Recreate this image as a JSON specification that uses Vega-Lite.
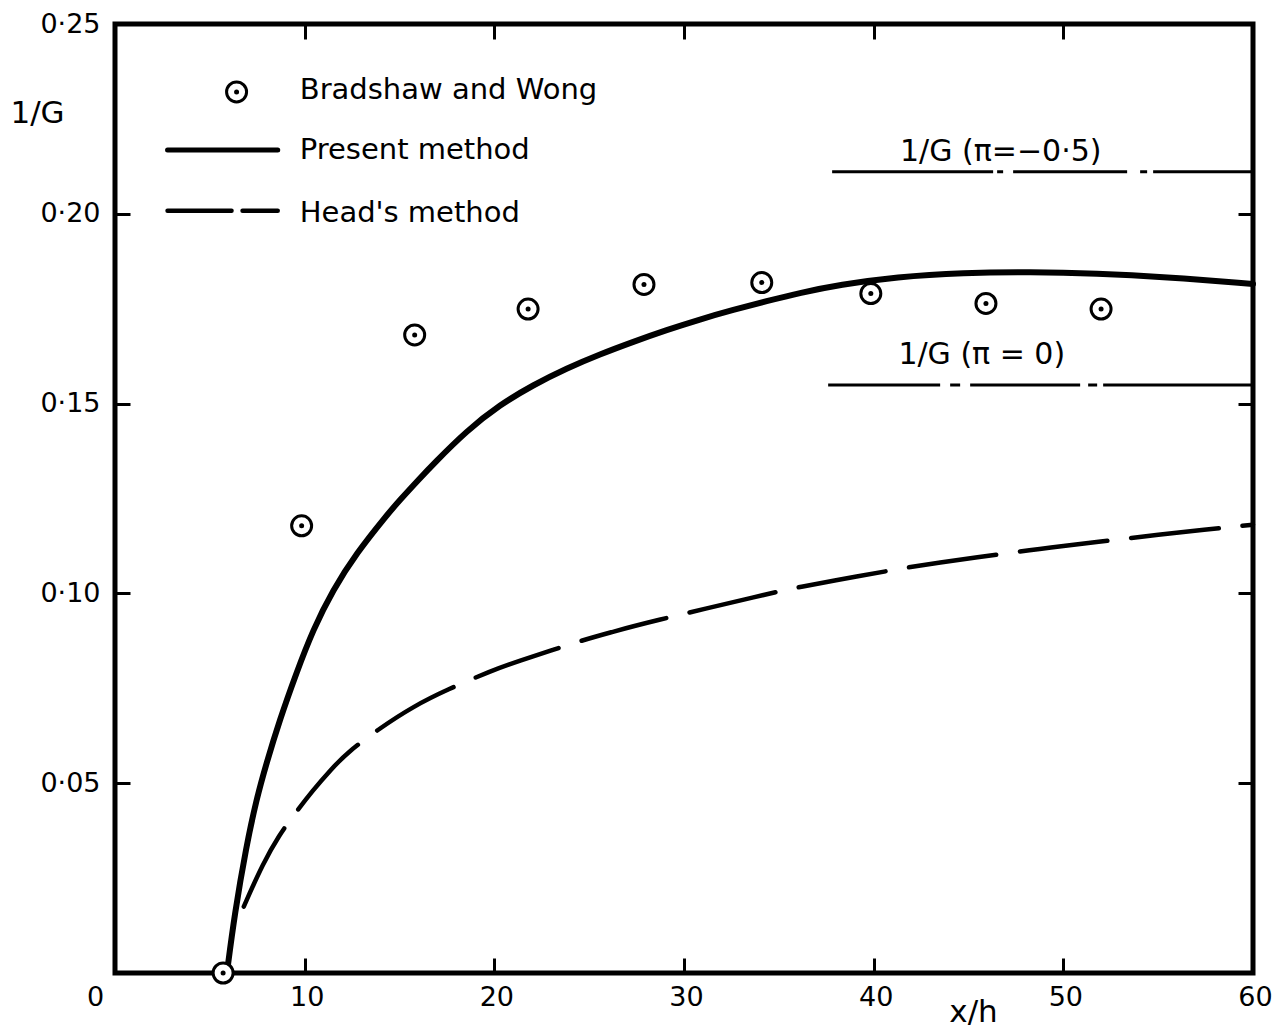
{
  "$schema": "https://vega.github.io/schema/vega-lite/v6.json",
  "width": 1138,
  "height": 949,
  "autosize": "none",
  "padding": {"left": 115, "top": 24, "right": 33, "bottom": 59},
  "background": "white",
  "config": {
    "view": {"stroke": "black", "strokeWidth": 5},
    "font": "DejaVu Sans",
    "axis": {
      "labelColor": "black", "tickColor": "black", "titleColor": "black",
      "titleFontWeight": "normal", "labelFont": "DejaVu Sans", "titleFont": "DejaVu Sans",
      "grid": false, "domain": false, "labelFlush": false, "labelOverlap": false
    }
  },
  "datasets": {
    "bw": [
      {"x": 5.7, "y": 0.0},
      {"x": 9.84, "y": 0.1178},
      {"x": 15.8, "y": 0.1681},
      {"x": 21.78, "y": 0.1749},
      {"x": 27.89, "y": 0.1814},
      {"x": 34.1, "y": 0.1819},
      {"x": 39.85, "y": 0.179},
      {"x": 45.92, "y": 0.1764},
      {"x": 51.99, "y": 0.1749}
    ],
    "present": [
      {"x": 5.9, "y": 0.0},
      {"x": 6.31, "y": 0.0157},
      {"x": 6.92, "y": 0.0333},
      {"x": 7.45, "y": 0.0456},
      {"x": 7.98, "y": 0.0552},
      {"x": 8.68, "y": 0.0666},
      {"x": 9.56, "y": 0.079},
      {"x": 10.44, "y": 0.0904},
      {"x": 11.49, "y": 0.1009},
      {"x": 12.73, "y": 0.1106},
      {"x": 14.31, "y": 0.1205},
      {"x": 15.0, "y": 0.1245},
      {"x": 16.07, "y": 0.1303},
      {"x": 16.77, "y": 0.134},
      {"x": 18.53, "y": 0.1428},
      {"x": 20.29, "y": 0.1497},
      {"x": 22.05, "y": 0.1549},
      {"x": 23.81, "y": 0.1593},
      {"x": 25.57, "y": 0.163},
      {"x": 27.33, "y": 0.1663},
      {"x": 29.09, "y": 0.1694},
      {"x": 30.84, "y": 0.1722},
      {"x": 32.6, "y": 0.1747},
      {"x": 34.36, "y": 0.177},
      {"x": 36.12, "y": 0.1792},
      {"x": 38.2, "y": 0.1813},
      {"x": 41.2, "y": 0.1834},
      {"x": 44.74, "y": 0.1845},
      {"x": 48.26, "y": 0.1847},
      {"x": 51.78, "y": 0.1843},
      {"x": 55.29, "y": 0.1834},
      {"x": 60.0, "y": 0.1815}
    ],
    "head": [
      {"x": 6.79, "y": 0.0175},
      {"x": 7.8, "y": 0.0289},
      {"x": 8.68, "y": 0.0365},
      {"x": 9.38, "y": 0.0413},
      {"x": 10.44, "y": 0.0482},
      {"x": 11.41, "y": 0.0537},
      {"x": 12.2, "y": 0.0579},
      {"x": 13.96, "y": 0.0645},
      {"x": 15.72, "y": 0.0702},
      {"x": 17.48, "y": 0.0746},
      {"x": 19.94, "y": 0.0798},
      {"x": 21.0, "y": 0.0817},
      {"x": 24.51, "y": 0.0875},
      {"x": 26.27, "y": 0.0899},
      {"x": 27.85, "y": 0.0921},
      {"x": 34.54, "y": 0.1},
      {"x": 35.95, "y": 0.1016},
      {"x": 39.29, "y": 0.1046},
      {"x": 41.49, "y": 0.1066},
      {"x": 42.9, "y": 0.1077},
      {"x": 48.0, "y": 0.1113},
      {"x": 49.49, "y": 0.1122},
      {"x": 54.06, "y": 0.1149},
      {"x": 55.8, "y": 0.1159},
      {"x": 60.0, "y": 0.1181}
    ],
    "refA": [{"label": "1/G  (π=−0·5)", "x": 37.81, "x2": 60, "y": 0.2111, "tx": 46.7, "ty": 0.2162}],
    "refB": [{"label": "1/G  (π = 0)", "x": 37.6, "x2": 60, "y": 0.1549, "tx": 45.7, "ty": 0.1628}],
    "lgmark": [{"x": 6.41, "y": 0.2321}],
    "lgsolid": [{"x": 2.77, "x2": 8.58, "y": 0.2168}],
    "lgdash": [{"x": 2.77, "x2": 8.58, "y": 0.2008}],
    "lgtext": [
      {"label": "Bradshaw and Wong", "x": 9.74, "y": 0.2326},
      {"label": "Present method", "x": 9.74, "y": 0.2168},
      {"label": "Head's method", "x": 9.74, "y": 0.2003}
    ]
  },
  "resolve": {"axis": {"x": "independent", "y": "independent"}},
  "layer": [
    {
      "data": {"name": "present"},
      "mark": {"type": "line", "stroke": "black", "strokeWidth": 6, "interpolate": "basis", "strokeCap": "round"},
      "encoding": {
        "x": {"field": "x", "type": "quantitative", "scale": {"domain": [0, 60], "nice": false, "zero": false},
          "axis": {"orient": "bottom", "values": [0, 10, 20, 30, 40, 50, 60], "tickSize": -15, "tickWidth": 3,
            "labelPadding": 26, "labelFontSize": 27,
            "labelOffset": {"condition": {"test": "datum.value == 0", "value": -20}, "value": 2},
            "title": "x/h", "titleFontSize": 31, "titleX": 858, "titleY": 39, "titleAlign": "center", "titleBaseline": "middle"}},
        "y": {"field": "y", "type": "quantitative", "scale": {"domain": [0, 0.25], "nice": false, "zero": false},
          "axis": {"orient": "left", "values": [0, 0.05, 0.1, 0.15, 0.2, 0.25], "tickSize": -15, "tickWidth": 3,
            "labelPadding": 30, "labelFontSize": 27,
            "labelExpr": "datum.value == 0 ? '' : replace(format(datum.value, '.2f'), '.', '·')",
            "title": "1/G", "titleFontSize": 31, "titleAngle": 0, "titleX": -78, "titleY": 89, "titleAlign": "center", "titleBaseline": "middle"}}
      }
    },
    {
      "data": {"name": "head"},
      "mark": {"type": "line", "stroke": "black", "strokeWidth": 4.5, "interpolate": "basis", "strokeDash": [88, 24], "strokeCap": "round"},
      "encoding": {
        "x": {"field": "x", "type": "quantitative", "axis": null},
        "y": {"field": "y", "type": "quantitative", "axis": null}
      }
    },
    {
      "data": {"name": "refA"},
      "mark": {"type": "rule", "stroke": "black", "strokeWidth": 3, "strokeDash": [161, 4, 6, 10, 114, 13, 7, 6, 200]},
      "encoding": {
        "x": {"field": "x", "type": "quantitative", "axis": null},
        "x2": {"field": "x2"},
        "y": {"field": "y", "type": "quantitative", "axis": null}
      }
    },
    {
      "data": {"name": "refB"},
      "mark": {"type": "rule", "stroke": "black", "strokeWidth": 3, "strokeDash": [112, 10, 10, 10, 110, 8, 9, 6, 200]},
      "encoding": {
        "x": {"field": "x", "type": "quantitative", "axis": null},
        "x2": {"field": "x2"},
        "y": {"field": "y", "type": "quantitative", "axis": null}
      }
    },
    {
      "data": {"name": "refA"},
      "mark": {"type": "text", "fontSize": 30, "align": "center", "baseline": "middle", "color": "black"},
      "encoding": {
        "x": {"field": "tx", "type": "quantitative", "axis": null},
        "y": {"field": "ty", "type": "quantitative", "axis": null},
        "text": {"field": "label"}
      }
    },
    {
      "data": {"name": "refB"},
      "mark": {"type": "text", "fontSize": 30, "align": "center", "baseline": "middle", "color": "black"},
      "encoding": {
        "x": {"field": "tx", "type": "quantitative", "axis": null},
        "y": {"field": "ty", "type": "quantitative", "axis": null},
        "text": {"field": "label"}
      }
    },
    {
      "data": {"name": "lgsolid"},
      "mark": {"type": "rule", "stroke": "black", "strokeWidth": 5, "strokeCap": "round"},
      "encoding": {
        "x": {"field": "x", "type": "quantitative", "axis": null},
        "x2": {"field": "x2"},
        "y": {"field": "y", "type": "quantitative", "axis": null}
      }
    },
    {
      "data": {"name": "lgdash"},
      "mark": {"type": "rule", "stroke": "black", "strokeWidth": 4.5, "strokeDash": [64, 11, 40], "strokeCap": "round"},
      "encoding": {
        "x": {"field": "x", "type": "quantitative", "axis": null},
        "x2": {"field": "x2"},
        "y": {"field": "y", "type": "quantitative", "axis": null}
      }
    },
    {
      "data": {"name": "lgtext"},
      "mark": {"type": "text", "fontSize": 29, "align": "left", "baseline": "middle", "color": "black"},
      "encoding": {
        "x": {"field": "x", "type": "quantitative", "axis": null},
        "y": {"field": "y", "type": "quantitative", "axis": null},
        "text": {"field": "label"}
      }
    },
    {
      "data": {"name": "lgmark"},
      "mark": {"type": "point", "shape": "circle", "size": 400, "filled": true, "fill": "white", "stroke": "black", "strokeWidth": 3, "opacity": 1},
      "encoding": {
        "x": {"field": "x", "type": "quantitative", "axis": null},
        "y": {"field": "y", "type": "quantitative", "axis": null}
      }
    },
    {
      "data": {"name": "lgmark"},
      "mark": {"type": "point", "shape": "circle", "size": 25, "filled": true, "color": "black", "opacity": 1},
      "encoding": {
        "x": {"field": "x", "type": "quantitative", "axis": null},
        "y": {"field": "y", "type": "quantitative", "axis": null}
      }
    },
    {
      "data": {"name": "bw"},
      "mark": {"type": "point", "shape": "circle", "size": 400, "filled": true, "fill": "white", "stroke": "black", "strokeWidth": 3, "opacity": 1},
      "encoding": {
        "x": {"field": "x", "type": "quantitative",
          "axis": {"orient": "top", "values": [10, 20, 30, 40, 50], "labels": false, "tickSize": -15, "tickWidth": 3, "title": null}},
        "y": {"field": "y", "type": "quantitative",
          "axis": {"orient": "right", "values": [0.05, 0.1, 0.15, 0.2], "labels": false, "tickSize": -15, "tickWidth": 3, "title": null}}
      }
    },
    {
      "data": {"name": "bw"},
      "mark": {"type": "point", "shape": "circle", "size": 25, "filled": true, "color": "black", "opacity": 1},
      "encoding": {
        "x": {"field": "x", "type": "quantitative", "axis": null},
        "y": {"field": "y", "type": "quantitative", "axis": null}
      }
    }
  ]
}
